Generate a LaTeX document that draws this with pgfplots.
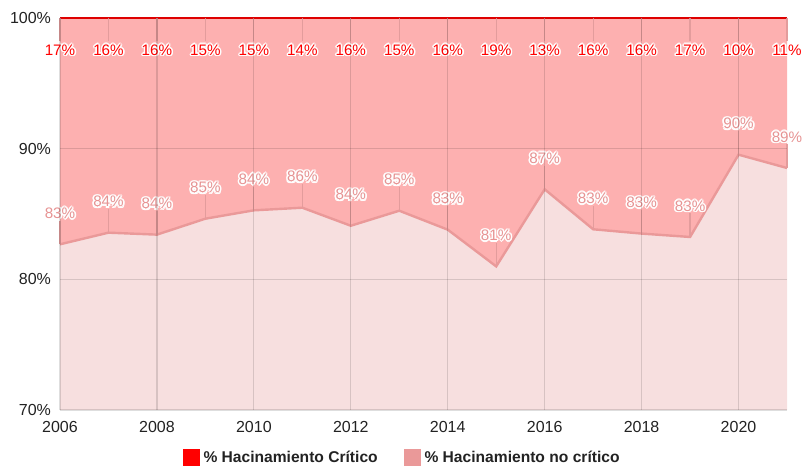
\documentclass[border=0pt]{standalone}
\usepackage{pgfplots}
\pgfplotsset{compat=1.18}
\usepackage{pgfplotstable}
\usepgfplotslibrary{fillbetween}
\usepackage{fontspec}
\setmainfont{Liberation Sans}
\definecolor{crit}{HTML}{FF0000}
\definecolor{nocrit}{HTML}{EA9999}
\definecolor{nocritlab}{HTML}{E79393}
\definecolor{critfill}{HTML}{FDB0B0}
\definecolor{nocritfill}{HTML}{F7DFDF}
\definecolor{tickc}{HTML}{222222}
\definecolor{stemc}{HTML}{E39C9C}

\newcommand\halo[2]{%
  \def\halotxt{#2}%
  \rlap{\hspace*{-0.8pt}\textcolor{white}{\halotxt}}%
  \rlap{\hspace*{0.8pt}\textcolor{white}{\halotxt}}%
  \rlap{\raisebox{0.8pt}{\textcolor{white}{\halotxt}}}%
  \rlap{\raisebox{-0.8pt}{\textcolor{white}{\halotxt}}}%
  \rlap{\hspace*{-0.57pt}\raisebox{0.57pt}{\textcolor{white}{\halotxt}}}%
  \rlap{\hspace*{0.57pt}\raisebox{0.57pt}{\textcolor{white}{\halotxt}}}%
  \rlap{\hspace*{-0.57pt}\raisebox{-0.57pt}{\textcolor{white}{\halotxt}}}%
  \rlap{\hspace*{0.57pt}\raisebox{-0.57pt}{\textcolor{white}{\halotxt}}}%
  \textcolor{#1}{\halotxt}}
% label with a stem: #1 colour, #2 text, #3 raise of stem bottom, #4 stem length
\newcommand\stemlabel[4]{%
  \setbox0\hbox{\halo{#1}{#2}}%
  \copy0\kern-0.5\wd0
  \makebox[0pt]{\raisebox{#3}[0pt][0pt]{\textcolor{stemc}{\rule{0.6pt}{#4}}}}%
  \kern0.5\wd0}

\pgfplotstableread{
year nc    c   lnc lc
2006 82.68 100 83  17
2007 83.57 100 84  16
2008 83.42 100 84  16
2009 84.64 100 85  15
2010 85.28 100 84  15
2011 85.48 100 86  14
2012 84.10 100 84  16
2013 85.25 100 85  15
2014 83.80 100 83  16
2015 80.99 100 81  19
2016 86.89 100 87  13
2017 83.83 100 83  16
2018 83.50 100 83  16
2019 83.24 100 83  17
2020 89.54 100 90  10
2021 88.52 100 89  11
}\data

\begin{document}
\begin{tikzpicture}
\begin{axis}[
  scale only axis,
  width=363.5pt, height=196pt,
  xmin=2006, xmax=2021, ymin=70, ymax=100,
  clip=false,
  axis on top,
  axis line style={draw=none},
  major tick length=0pt, minor tick length=0pt,
  xtick={2006,2008,...,2020},
  ytick={70,80,90,100},
  grid=major,
  major grid style={black, opacity=0.13, line width=0.6pt},
  /pgf/number format/1000 sep={},
  /pgf/number format/assume math mode=true,
  yticklabel={\pgfmathprintnumber{\tick}\%},
  tick label style={font=\fontsize{8}{9}\selectfont, text=tickc},
  xticklabel style={yshift=-2pt},
  yticklabel style={xshift=-1pt},
  legend style={at={(0.472,-0.122)}, anchor=center, draw=none, fill=none,
    legend columns=2, font=\fontsize{7.8}{9}\selectfont\bfseries, text=tickc,
    /tikz/every even column/.append style={column sep=11pt},
    /tikz/every odd column/.append style={column sep=0pt}},
  legend cell align=left,
]
\addplot[name path=base, draw=none, forget plot] coordinates {(2006,70) (2021,70)};
\addplot[name path=nc, draw=none, forget plot] table[x=year, y=nc] {\data};
\addplot[name path=top, draw=none, forget plot] table[x=year, y=c] {\data};
\addplot[nocritfill, forget plot] fill between[of=nc and base];
\addplot[critfill, forget plot] fill between[of=top and nc];
\addplot[nocrit, line width=1.2pt, forget plot] table[x=year, y=nc] {\data};
\addplot[crit, line width=1pt, forget plot] table[x=year, y=c] {\data};
\addplot[draw=none, forget plot, point meta=explicit symbolic,
  nodes near coords={\stemlabel{nocritlab}{\pgfplotspointmeta\%}{-12.7pt}{11.6pt}},
  every node near coord/.append style={anchor=center, yshift=15.5pt, inner sep=0pt, font=\fontsize{7.6}{9}\selectfont}]
  table[x=year, y=nc, meta=lnc] {\data};
\addplot[draw=none, forget plot, point meta=explicit symbolic,
  nodes near coords={\stemlabel{crit}{\pgfplotspointmeta\%}{7pt}{11.5pt}},
  every node near coord/.append style={anchor=center, yshift=-16pt, inner sep=0pt, font=\fontsize{7.6}{9}\selectfont}]
  table[x=year, y=c, meta=lc] {\data};
\addlegendimage{legend image code/.code={\fill[crit] (-3pt,-4pt) rectangle (5pt,4pt);}}
\addlegendentry{\% Hacinamiento Crítico}
\addlegendimage{legend image code/.code={\fill[nocrit] (-3pt,-4pt) rectangle (5pt,4pt);}}
\addlegendentry{\% Hacinamiento no crítico}
\end{axis}
\pgfresetboundingbox
\useasboundingbox ([shift={(-30pt,-28.5pt)}]current axis.south west) rectangle ([shift={(8pt,9pt)}]current axis.north east);
\end{tikzpicture}
\end{document}
